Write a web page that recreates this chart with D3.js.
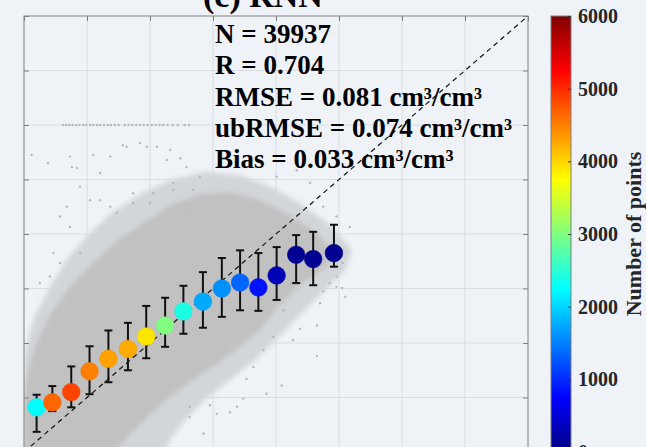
<!DOCTYPE html>
<html>
<head>
<meta charset="utf-8">
<script src="https://cdn.jsdelivr.net/npm/d3@7"></script>
<style>
  html, body { margin: 0; padding: 0; background: #eff3f8; overflow: hidden; }
  svg { display: block; }
</style>
</head>
<body>
<div id="viz"></div>
<script>
// binned means (x = in-situ, y = model) with error range and point count
const binX = [0.020, 0.045, 0.075, 0.104, 0.134, 0.165, 0.194, 0.224, 0.253, 0.284, 0.314, 0.343, 0.372, 0.401, 0.432, 0.459, 0.492];
const binMean = [0.082, 0.091, 0.110, 0.148, 0.171, 0.189, 0.212, 0.232, 0.258, 0.276, 0.300, 0.311, 0.302, 0.324, 0.362, 0.354, 0.365];
const binLow = [0.037, 0.075, 0.082, 0.106, 0.128, 0.150, 0.172, 0.193, 0.217, 0.228, 0.248, 0.260, 0.259, 0.279, 0.310, 0.306, 0.340];
const binHigh = [0.105, 0.121, 0.157, 0.194, 0.223, 0.237, 0.268, 0.283, 0.305, 0.330, 0.356, 0.370, 0.365, 0.376, 0.398, 0.404, 0.417];
const binCount = [2250, 4650, 4850, 4500, 4300, 4250, 3900, 3000, 2400, 1750, 1600, 1350, 850, 320, 110, 100, 100];

// outline of the gray scatter cloud (outer halo and dense core)
const haloX = [0, 0, 0.014, 0.038, 0.065, 0.097, 0.137, 0.184, 0.232, 0.287, 0.343, 0.390, 0.438, 0.486, 0.521, 0.510, 0.478, 0.438, 0.403, 0.367, 0.327, 0.287, 0.256, 0.232, 0.224];
const haloY = [0, 0.178, 0.242, 0.297, 0.349, 0.393, 0.437, 0.473, 0.499, 0.514, 0.508, 0.488, 0.457, 0.417, 0.371, 0.334, 0.297, 0.251, 0.209, 0.169, 0.132, 0.095, 0.059, 0.022, 0];
const coreX = [0, 0, 0.006, 0.018, 0.040, 0.068, 0.108, 0.150, 0.192, 0.232, 0.279, 0.327, 0.375, 0.422, 0.462, 0.494, 0.478, 0.438, 0.402, 0.375, 0.343, 0.306, 0.268, 0.232, 0.200, 0.168, 0.144];
const coreY = [0, 0.105, 0.150, 0.195, 0.250, 0.297, 0.345, 0.390, 0.422, 0.453, 0.473, 0.477, 0.462, 0.435, 0.404, 0.367, 0.338, 0.306, 0.266, 0.224, 0.193, 0.161, 0.132, 0.101, 0.068, 0.031, 0];

// scattered single points outside the cloud
const sparseX = [0.012, 0.038, 0.073, 0.084, 0.110, 0.121, 0.137, 0.163, 0.184, 0.211, 0.232, 0.248, 0.089, 0.121, 0.173, 0.200, 0.237, 0.258, 0.068, 0.147, 0.076, 0.057, 0.073, 0.047, 0.057, 0.041, 0.025, 0.089, 0.105, 0.137, 0.173, 0.205, 0.237, 0.268, 0.279, 0.227, 0.195, 0.258, 0.157,
  0.412, 0.438, 0.465, 0.470, 0.427, 0.465, 0.409, 0.385, 0.353, 0.338, 0.327, 0.348, 0.306, 0.295, 0.285, 0.263, 0.263, 0.364, 0.380, 0.396, 0.496, 0.510, 0.454, 0.475, 0.496, 0.433, 0.401, 0.517, 0.483, 0.506, 0.485, 0.496, 0.505, 0.475];
const sparseY = [0.545, 0.530, 0.542, 0.521, 0.545, 0.512, 0.542, 0.560, 0.567, 0.560, 0.554, 0.539, 0.487, 0.462, 0.475, 0.457, 0.481, 0.439, 0.450, 0.439, 0.523, 0.432, 0.413, 0.365, 0.347, 0.322, 0.310, 0.365, 0.462, 0.450, 0.457, 0.475, 0.494, 0.481, 0.505, 0.536, 0.560, 0.523, 0.563,
  0.260, 0.226, 0.232, 0.273, 0.205, 0.176, 0.122, 0.107, 0.134, 0.083, 0.073, 0.098, 0.070, 0.086, 0.034, 0.083, 0.064, 0.156, 0.187, 0.211, 0.303, 0.285, 0.494, 0.450, 0.432, 0.517, 0.505, 0.413, 0.353, 0.347, 0.310, 0.322, 0.301, 0.295];
// row of points sitting at the 0.6 upper limit
const rowX = [0.062, 0.067, 0.072, 0.077, 0.083, 0.088, 0.094, 0.099, 0.105, 0.110, 0.116, 0.121, 0.127, 0.133, 0.138, 0.144, 0.150, 0.160, 0.166, 0.172, 0.178, 0.184, 0.190, 0.196, 0.203, 0.209, 0.215, 0.221, 0.228, 0.236, 0.244, 0.255, 0.262];
const rowY = 0.6;

const axisTicks = [0, 0.1, 0.2, 0.3, 0.4, 0.5, 0.6, 0.7, 0.8];
const colorTicks = [0, 1000, 2000, 3000, 4000, 5000, 6000];
const statLines = ['N = 39937', 'R = 0.704', 'RMSE = 0.081 cm³/cm³', 'ubRMSE = 0.074 cm³/cm³', 'Bias = 0.033 cm³/cm³'];
const title = '(c) RNN';
const colorLabel = 'Number of points';

const config = {
  width: 646,
  height: 447,
  plot: { left: 24, top: 16, right: 528, bottom: 452 },
  bar: { left: 551, right: 571 }
}

const font = '"Liberation Serif", "Times New Roman", serif';

const svg = d3.select('#viz').append('svg')
  .attr('width', config.width)
  .attr('height', config.height);

svg.append('rect')
  .attr('width', config.width)
  .attr('height', config.height)
  .attr('fill', '#eff3f8');

const x = d3.scaleLinear().domain([0, 0.8]).range([config.plot.left, config.plot.right]);
const y = d3.scaleLinear().domain([0, 0.8]).range([config.plot.bottom, config.plot.top]);

// MATLAB jet
const jet = d3.scaleLinear()
  .domain([0, 750, 2250, 3750, 5250, 6000])
  .range(['#000080', '#0000ff', '#00ffff', '#ffff00', '#ff0000', '#800000']);

const cbar = d3.scaleLinear().domain([0, 6000]).range([config.plot.bottom, config.plot.top]);

const defs = svg.append('defs');
defs.append('clipPath').attr('id', 'plotclip')
  .append('rect')
  .attr('x', config.plot.left).attr('y', config.plot.top)
  .attr('width', config.plot.right - config.plot.left)
  .attr('height', config.plot.bottom - config.plot.top);

// soft edge for the cloud outlines
defs.append('filter').attr('id', 'soft')
  .append('feGaussianBlur').attr('stdDeviation', 2.5);

const g = svg.append('g');

// grid
g.append('g').selectAll('line.vx')
  .data(axisTicks.slice(1, -1)).join('line')
  .attr('x1', d => x(d)).attr('x2', d => x(d))
  .attr('y1', config.plot.top).attr('y2', config.plot.bottom)
  .attr('stroke', '#dadde1').attr('stroke-width', 1);
g.append('g').selectAll('line.hy')
  .data(axisTicks.slice(1, -1)).join('line')
  .attr('y1', d => y(d)).attr('y2', d => y(d))
  .attr('x1', config.plot.left).attr('x2', config.plot.right)
  .attr('stroke', '#dadde1').attr('stroke-width', 1);

// scatter cloud
const cloud = g.append('g').attr('clip-path', 'url(#plotclip)');
const area = d3.line().x(d => x(d[0])).y(d => y(d[1])).curve(d3.curveLinearClosed);
cloud.append('path')
  .attr('d', area(haloX.map((v, i) => [v, haloY[i]])))
  .attr('fill', '#d3d6d9')
  .attr('filter', 'url(#soft)');
cloud.append('path')
  .attr('d', area(coreX.map((v, i) => [v, coreY[i]])))
  .attr('fill', '#c1c1c1')
  .attr('filter', 'url(#soft)');

cloud.append('g').selectAll('circle')
  .data(sparseX.map((v, i) => [v, sparseY[i]]).concat(rowX.map(v => [v, rowY])))
  .join('circle')
  .attr('cx', d => x(d[0]))
  .attr('cy', d => y(d[1]))
  .attr('r', 1.2)
  .attr('fill', '#b8b8b8');

// 1:1 line
g.append('line')
  .attr('x1', x(0)).attr('y1', y(0))
  .attr('x2', x(0.8)).attr('y2', y(0.8))
  .attr('stroke', '#111')
  .attr('stroke-width', 1.2)
  .attr('stroke-dasharray', '5,4');

// error bars
const bins = binX.map((v, i) => ({ x: v, m: binMean[i], lo: binLow[i], hi: binHigh[i], n: binCount[i] }));
const err = g.append('g').attr('stroke', '#111').attr('stroke-width', 2);
err.selectAll('line.v').data(bins).join('line')
  .attr('x1', d => x(d.x)).attr('x2', d => x(d.x))
  .attr('y1', d => y(d.lo)).attr('y2', d => y(d.hi));
err.selectAll('line.lo').data(bins).join('line')
  .attr('x1', d => x(d.x) - 4).attr('x2', d => x(d.x) + 4)
  .attr('y1', d => y(d.lo)).attr('y2', d => y(d.lo));
err.selectAll('line.hi').data(bins).join('line')
  .attr('x1', d => x(d.x) - 4).attr('x2', d => x(d.x) + 4)
  .attr('y1', d => y(d.hi)).attr('y2', d => y(d.hi));

g.append('g').selectAll('circle')
  .data(bins).join('circle')
  .attr('cx', d => x(d.x))
  .attr('cy', d => y(d.m))
  .attr('r', 8.8)
  .attr('fill', d => jet(d.n))
  .attr('stroke', d => d3.color(jet(d.n)).darker(0.2))
  .attr('stroke-width', 0.6);

// axes, inward ticks, no labels (they fall outside the crop)
const axisColor = '#7f7f7f';
const styleAxis = sel => {
  sel.select('.domain').remove();
  sel.selectAll('line').attr('stroke', axisColor);
};
g.append('g').attr('transform', `translate(${config.plot.left},0)`)
  .call(d3.axisLeft(y).tickValues(axisTicks).tickSize(-5).tickFormat(''))
  .call(styleAxis);
g.append('g').attr('transform', `translate(${config.plot.right},0)`)
  .call(d3.axisRight(y).tickValues(axisTicks).tickSize(-5).tickFormat(''))
  .call(styleAxis);
g.append('g').attr('transform', `translate(0,${config.plot.top})`)
  .call(d3.axisTop(x).tickValues(axisTicks).tickSize(-5).tickFormat(''))
  .call(styleAxis);
g.append('rect')
  .attr('x', config.plot.left).attr('y', config.plot.top)
  .attr('width', config.plot.right - config.plot.left)
  .attr('height', config.plot.bottom - config.plot.top)
  .attr('fill', 'none').attr('stroke', axisColor).attr('stroke-width', 1);

// stats text
g.append('g').selectAll('text')
  .data(statLines).join('text')
  .attr('x', 215)
  .attr('y', (d, i) => 43 + i * 31.3)
  .attr('font-family', font)
  .attr('font-weight', 'bold')
  .attr('font-size', 27)
  .attr('fill', '#000')
  .text(d => d);

svg.append('text')
  .attr('x', 203).attr('y', 7)
  .attr('font-family', font).attr('font-weight', 'bold').attr('font-size', 34)
  .attr('fill', '#000')
  .text(title);

// colorbar
const grad = defs.append('linearGradient')
  .attr('id', 'jet').attr('x1', 0).attr('y1', 1).attr('x2', 0).attr('y2', 0);
grad.selectAll('stop').data(d3.range(0, 6001, 250)).join('stop')
  .attr('offset', d => d / 6000)
  .attr('stop-color', d => jet(d));

svg.append('rect')
  .attr('x', config.bar.left).attr('y', cbar(6000))
  .attr('width', config.bar.right - config.bar.left)
  .attr('height', cbar(0) - cbar(6000))
  .attr('fill', 'url(#jet)')
  .attr('stroke', axisColor).attr('stroke-width', 1);

svg.append('g').attr('transform', `translate(${config.bar.right},0)`)
  .call(d3.axisRight(cbar).tickValues(colorTicks).tickSize(-3).tickPadding(7).tickFormat(d3.format('d')))
  .call(sel => {
    sel.select('.domain').remove();
    sel.selectAll('line').attr('stroke', '#333');
    sel.selectAll('text')
      .attr('font-family', font).attr('font-weight', 'bold').attr('font-size', 20)
      .attr('fill', '#262626');
  });

svg.append('text')
  .attr('transform', 'translate(641,234) rotate(-90)')
  .attr('text-anchor', 'middle')
  .attr('font-family', font).attr('font-weight', 'bold').attr('font-size', 22)
  .attr('fill', '#262626')
  .text(colorLabel);
</script>
</body>
</html>
